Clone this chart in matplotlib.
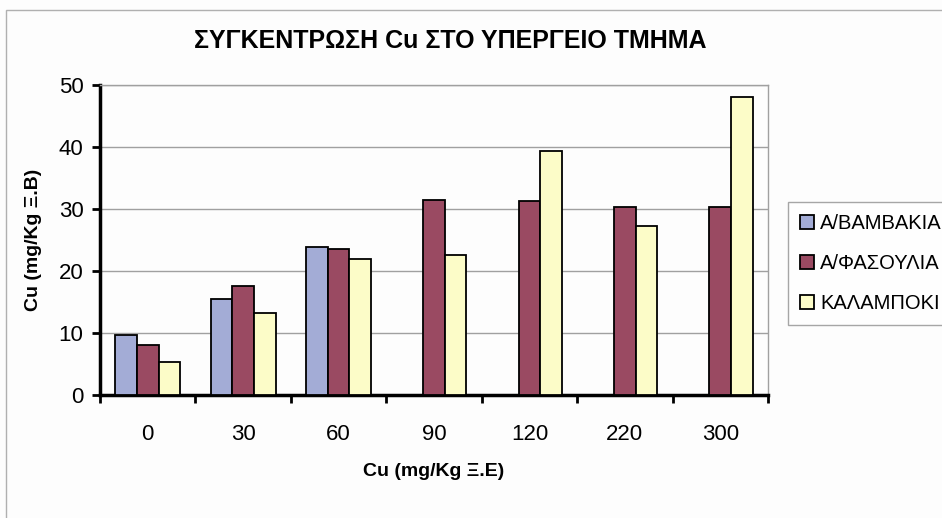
import numpy as np
import matplotlib.pyplot as plt
from matplotlib.patches import Rectangle

# Δεδομένα
doses = ['0', '30', '60', '90', '120', '220', '300']
vamvakia = [9.7, 15.5, 23.9, np.nan, np.nan, np.nan, np.nan]
fasoulia = [8.1, 17.6, 23.6, 31.4, 31.3, 30.3, 30.4]
kalampoki = [5.3, 13.3, 22.0, 22.6, 39.4, 27.2, 48.1]
series_names = ['Α/ΒΑΜΒΑΚΙΑ', 'Α/ΦΑΣΟΥΛΙΑ', 'ΚΑΛΑΜΠΟΚΙ']
colors = ['#a3acd6', '#9a4a62', '#fcfcc8']

plt.rcParams['font.family'] = ['Liberation Sans', 'DejaVu Sans']

fig = plt.figure(figsize=(9.42, 5.18), dpi=100)
fig.patch.set_facecolor('#fdfdfd')
ax = fig.add_axes([0.1062, 0.2375, 0.709, 0.5984])
ax.set_facecolor('#fdfdfd')

# πλαίσιο γραφήματος
fig.patches.append(Rectangle((0.006, -0.01), 1.0, 0.99, transform=fig.transFigure,
                             fill=False, edgecolor='#b0b0b0', lw=1))

x = np.arange(len(doses))
w = 0.227
for i, (vals, name, c) in enumerate(zip([vamvakia, fasoulia, kalampoki], series_names, colors)):
    ax.bar(x + (i - 1) * w, vals, w, color=c, edgecolor='black', linewidth=1.3, label=name, zorder=3)

ax.set_xlim(-0.5, len(doses) - 0.5)
ax.set_ylim(0, 50)
ax.set_yticks(range(0, 51, 10))
ax.yaxis.grid(True, color='#a0a0a0', lw=1, zorder=0)

ax.set_xticks(x)
ax.set_xticklabels(doses)
ax.set_xticks(np.arange(-0.5, len(doses), 1), minor=True)
ax.tick_params(axis='x', which='major', length=0, pad=21, labelsize=16)
ax.tick_params(axis='x', which='minor', length=6, width=2, direction='out')
ax.tick_params(axis='y', length=6, width=2, pad=6, labelsize=16)

for s in ['left', 'bottom']:
    ax.spines[s].set_linewidth(2.5)
for s in ['top', 'right']:
    ax.spines[s].set_color('#a0a0a0')
    ax.spines[s].set_linewidth(1)

fig.text(0.478, 0.921, 'ΣΥΓΚΕΝΤΡΩΣΗ Cu ΣΤΟ ΥΠΕΡΓΕΙΟ ΤΜΗΜΑ', ha='center', va='center',
         fontsize=18, fontweight='bold')
ax.set_xlabel('Cu (mg/Kg Ξ.Ε)', fontsize=14, fontweight='bold', labelpad=13)
ax.set_ylabel('Cu (mg/Kg Ξ.Β)', fontsize=14, fontweight='bold', labelpad=12)

leg = fig.legend(loc='upper left', bbox_to_anchor=(0.826, 0.63), frameon=True, fancybox=False,
                 edgecolor='#909090', fontsize=14.5, handlelength=0.7, handleheight=0.7,
                 handletextpad=0.3, labelspacing=1.05, borderpad=0.6)
leg.get_frame().set_linewidth(1)

fig.savefig('out.png', dpi=100, facecolor=fig.get_facecolor())
